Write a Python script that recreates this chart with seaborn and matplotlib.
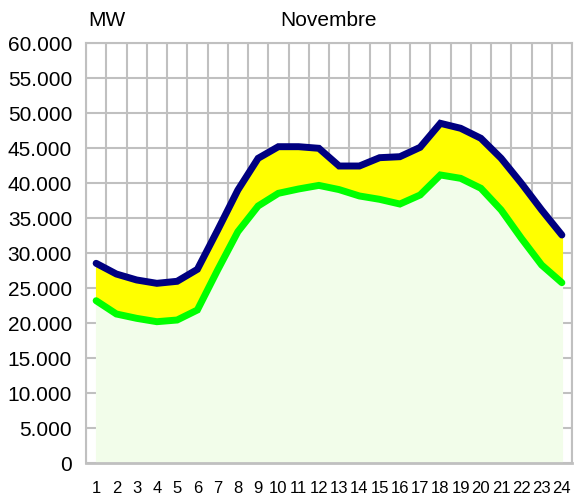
import numpy as np
import pandas as pd
import matplotlib
matplotlib.use("Agg")
import matplotlib.pyplot as plt
import seaborn as sns
from matplotlib.ticker import FuncFormatter, MultipleLocator

# hourly load, November (MW)
hours = list(range(1, 25))
peak = [28570, 27040, 26190, 25710, 26000, 27710, 33300, 39040, 43570, 45230,
        45230, 45000, 42470, 42470, 43660, 43800, 45140, 48570, 47860, 46430,
        43570, 40000, 36190, 32610]
base = [23230, 21330, 20710, 20230, 20470, 21900, 27610, 33090, 36760, 38570,
        39190, 39700, 39100, 38190, 37710, 37040, 38330, 41190, 40710, 39290,
        36190, 32140, 28330, 25800]

df = pd.DataFrame({"ora": hours, "max": peak, "min": base})

sns.set_style("white")
plt.rcParams["font.family"] = ["Liberation Sans", "DejaVu Sans"]
plt.rcParams["text.color"] = "black"
plt.rcParams["xtick.labelcolor"] = "black"
plt.rcParams["ytick.labelcolor"] = "black"

fig = plt.figure(figsize=(5.74, 4.97), dpi=100)
ax = fig.add_axes([86 / 574, 1 - 463.3 / 497, (572 - 86) / 574, (463.3 - 43.3) / 497])

grid_c = "#c0c0c0"

# fills
ax.fill_between(df["ora"], 0, df["min"], color="#f2fdea", zorder=2)
ax.fill_between(df["ora"], df["min"], df["max"], color="#ffff00", zorder=2)

sns.lineplot(data=df, x="ora", y="max", color="#000080", linewidth=5,
             solid_capstyle="round", solid_joinstyle="miter", ax=ax, zorder=4)
sns.lineplot(data=df, x="ora", y="min", color="#00ff00", linewidth=5,
             solid_capstyle="round", solid_joinstyle="miter", ax=ax, zorder=3)

ax.set_xlim(0.5, 24.5)
ax.set_ylim(0, 60000)

ax.xaxis.set_major_locator(MultipleLocator(1))
ax.xaxis.set_minor_locator(MultipleLocator(1, offset=0.5))
ax.yaxis.set_major_locator(MultipleLocator(5000))
ax.yaxis.set_major_formatter(FuncFormatter(lambda v, p: f"{int(v):,}".replace(",", ".")))

ax.tick_params(axis="x", which="major", length=0, labelsize=12, pad=13)
ax.tick_params(axis="x", which="minor", length=8, width=1.5, color=grid_c, direction="out")
ax.tick_params(axis="y", which="major", length=9, width=1.5, color=grid_c,
               labelsize=15, pad=1)
ax.set_xticks(hours)
ax.set_xticklabels([str(h) for h in hours])

ax.grid(True, which="minor", axis="x", color=grid_c, linewidth=1.5, zorder=1)
ax.grid(True, which="major", axis="y", color=grid_c, linewidth=1.5, zorder=1)
ax.grid(False, which="major", axis="x")
ax.set_axisbelow(True)

for s in ax.spines.values():
    s.set_color(grid_c)
    s.set_linewidth(1.5)
ax.spines["bottom"].set_linewidth(2)

ax.set_xlabel("")
ax.set_ylabel("")

fig.text(88 / 574, 1 - 21 / 497, "MW", fontsize=15, ha="left", va="center")
fig.text(329 / 574, 1 - 21 / 497, "Novembre", fontsize=15, ha="center", va="center")

fig.savefig("out.png", dpi=100)
